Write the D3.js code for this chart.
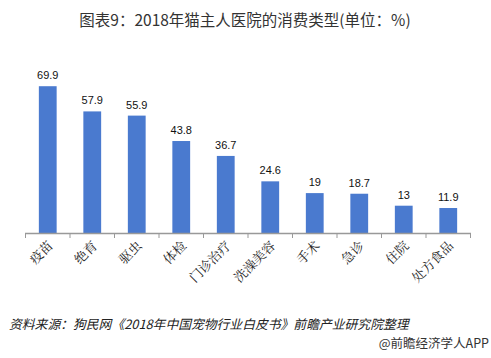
<!DOCTYPE html>
<html><head><meta charset="utf-8">
<script src="https://cdn.jsdelivr.net/npm/d3@7"></script>
<style>body{margin:0;background:#fff;}svg{display:block;}</style>
</head><body>
<script>
const categories = ["疫苗","绝育","驱虫","体检","门诊治疗","洗澡美容","手术","急诊","住院","处方食品"];
const values = [69.9,57.9,55.9,43.8,36.7,24.6,19,18.7,13,11.9];
const valueLabels = ["69.9","57.9","55.9","43.8","36.7","24.6","19","18.7","13","11.9"];
const title = "图表9：2018年猫主人医院的消费类型(单位：%)";
const source = "资料来源：狗民网《2018年中国宠物行业白皮书》前瞻产业研究院整理";
const credit = "@前瞻经济学人APP";

const W = 491, H = 358;
const svg = d3.select("body").append("svg").attr("width", W).attr("height", H);
const cjk = "'Noto Sans CJK SC', 'Noto Sans', sans-serif";

svg.append("text").attr("x", 245).attr("y", 26).attr("text-anchor", "middle")
  .attr("font-family", cjk).attr("font-size", 15.5).attr("fill", "#333").text(title);

const x = d3.scaleBand().domain(categories).range([25.5, 470.5]).paddingInner(0.6).paddingOuter(0.3);
const y = d3.scaleLinear().domain([0, 70]).range([233, 86]);

svg.selectAll("rect.bar").data(values).join("rect").attr("class","bar")
  .attr("x", (d,i) => x(categories[i]))
  .attr("width", x.bandwidth())
  .attr("y", d => y(d))
  .attr("height", d => y(0) - y(d))
  .attr("fill", "#4a7acf");

svg.selectAll("text.val").data(values).join("text").attr("class","val")
  .attr("x", (d,i) => x(categories[i]) + x.bandwidth()/2)
  .attr("y", d => y(d) - 7)
  .attr("text-anchor", "middle")
  .attr("font-family", "'Liberation Sans', Arial, sans-serif")
  .attr("font-size", 11).attr("fill", "#111")
  .text((d,i) => valueLabels[i]);

// axis
const xb = d3.scaleBand().domain(categories).range([25.5, 470.5]);
const ax = svg.append("g").attr("transform", "translate(0,233.5)");
ax.append("line").attr("x1", 25).attr("x2", 471).attr("stroke", "#999").attr("stroke-width", 1.5);
const bounds = categories.map(c => xb(c)).concat([470.5]);
ax.selectAll("line.tk").data(bounds).join("line").attr("class","tk")
  .attr("x1", d => d).attr("x2", d => d).attr("y1", 0).attr("y2", 4.5)
  .attr("stroke", "#999").attr("stroke-width", 1);
ax.selectAll("text.lab").data(categories).join("text").attr("class","lab")
  .attr("transform", d => `translate(${xb(d) + xb.bandwidth()/2 + 6},${13}) rotate(-45)`)
  .attr("text-anchor", "end")
  .attr("font-family", "'Noto Serif CJK SC', " + cjk)
  .attr("font-size", 13).attr("fill", "#222")
  .text(d => d);

svg.append("text").attr("x", 9).attr("y", 329)
  .attr("font-family", cjk).attr("font-size", 12.8).attr("font-style", "italic")
  .attr("fill", "#222").text(source);
svg.append("text").attr("x", 489).attr("y", 348).attr("text-anchor", "end")
  .attr("font-family", cjk).attr("font-size", 12.5).attr("fill", "#333").text(credit);
</script>
</body></html>
